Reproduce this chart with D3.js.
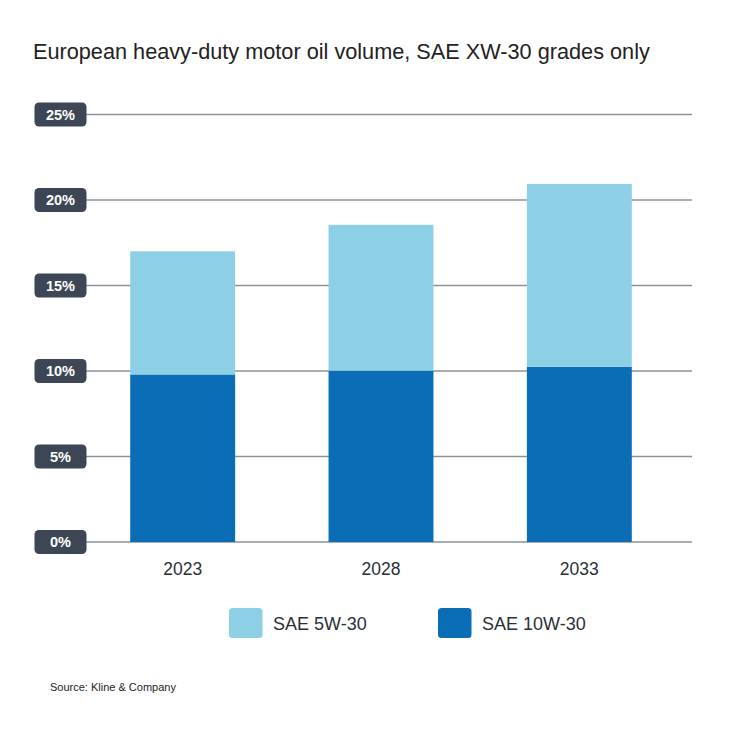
<!DOCTYPE html>
<html><head><meta charset="utf-8">
<script src="https://cdn.jsdelivr.net/npm/d3@7"></script>
<style>body{margin:0;background:#fff;} svg{display:block;font-family:"Liberation Sans",Arial,sans-serif;}</style>
</head><body><svg id="c" width="730" height="730"></svg>
<script>
const years = ["2023", "2028", "2033"];
const sae10w30 = [9.8, 10.02, 10.25];
const sae5w30 = [7.2, 8.53, 10.69];
const yTicks = [0, 5, 10, 15, 20, 25];
const seriesNames = ["SAE 5W-30", "SAE 10W-30"];
const colors = {"SAE 5W-30": "#8dd0e5", "SAE 10W-30": "#0a6db5"};

const svg = d3.select("#c");
svg.append("rect").attr("width",730).attr("height",730).attr("fill","#fff");

svg.append("text").attr("x",33).attr("y",59).attr("font-size",21.7).attr("fill","#222")
  .text("European heavy-duty motor oil volume, SAE XW-30 grades only");

const x = d3.scaleBand().domain(years).range([83.5, 678.5]).paddingInner(0.471).paddingOuter(0.2355);
const y = d3.scaleLinear().domain([0,25]).range([542, 114.5]);

const g = svg.append("g");
yTicks.forEach(t => {
  g.append("line").attr("x1",86).attr("x2",692).attr("y1",y(t)).attr("y2",y(t))
    .attr("stroke","#8e9297").attr("stroke-width",1.3);
});

const rows = years.map((yr,i)=>({year:yr, "SAE 10W-30":sae10w30[i], "SAE 5W-30":sae5w30[i]}));
const stack = d3.stack().keys(["SAE 10W-30","SAE 5W-30"])(rows);
svg.append("g").selectAll("g").data(stack).join("g").attr("fill", d=>colors[d.key])
  .selectAll("rect").data(d=>d).join("rect")
  .attr("x", d=>x(d.data.year)).attr("width", x.bandwidth())
  .attr("y", d=>y(d[1])).attr("height", d=>y(d[0])-y(d[1]));

yTicks.forEach(t => {
  const cy = y(t);
  g.append("rect").attr("x",34.5).attr("y",cy-12).attr("width",52).attr("height",24).attr("rx",4.5)
    .attr("fill","#3d4654");
  g.append("text").attr("x",60.5).attr("y",cy+5).attr("text-anchor","middle").attr("font-size",14.5)
    .attr("font-weight","bold").attr("fill","#fff").text(t+"%");
});

svg.append("g").selectAll("text").data(years).join("text")
  .attr("x", d=>x(d)+x.bandwidth()/2).attr("y",575).attr("text-anchor","middle")
  .attr("font-size",17.5).attr("fill","#2b2f36").text(d=>d);

const legX = [229, 438];
seriesNames.forEach((n,i)=>{
  svg.append("rect").attr("x",legX[i]).attr("y",608).attr("width",33.5).attr("height",30).attr("rx",3.5)
    .attr("fill",colors[n]);
  svg.append("text").attr("x",legX[i]+44).attr("y",630).attr("font-size",18).attr("fill","#2b2f36").text(n);
});

svg.append("text").attr("x",50).attr("y",691).attr("font-size",11).attr("fill","#222").text("Source: Kline & Company");
</script></body></html>
